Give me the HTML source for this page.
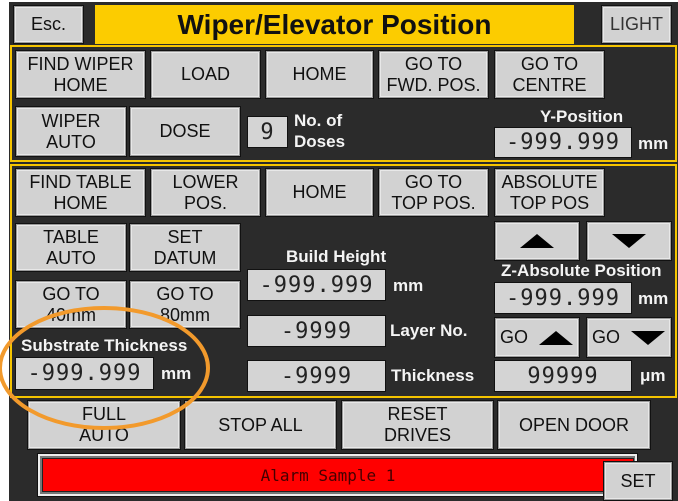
<!DOCTYPE html>
<html><head><meta charset="utf-8"><style>
*{margin:0;padding:0;box-sizing:border-box}
body{width:678px;height:501px;background:#fff;position:relative;overflow:hidden;font-family:"Liberation Sans",sans-serif}
#bg{position:absolute;left:9px;top:2px;width:669px;height:499px;background:#2b2b2b}
.b{position:absolute;background:#d2d2d2;border:1px solid #111;box-shadow:inset 0 0 0 1px #9a9a9a,inset 0 0 0 2px #e8e8e8;display:flex;align-items:center;justify-content:center;text-align:center;font-size:18px;line-height:21px;color:#111}
.v{position:absolute;background:#d4d4d4;border:1px solid #111;display:flex;align-items:center;justify-content:center;font-family:"DejaVu Sans Mono","Liberation Mono",monospace;font-size:22px;color:#222;letter-spacing:1px}
.l{position:absolute;color:#f4f4f4;font-weight:bold;font-size:17px;line-height:21px;white-space:nowrap}
.sec{position:absolute;border:2px solid #f5c400}
.up{width:0;height:0;border-left:17px solid transparent;border-right:17px solid transparent;border-bottom:14px solid #000}
.dn{width:0;height:0;border-left:17px solid transparent;border-right:17px solid transparent;border-top:14px solid #000}
</style></head><body>
<div id="bg"></div>
<div class="b" style="left:13px;top:5px;width:71px;height:39px">Esc.</div>
<div style="position:absolute;left:95px;top:5px;width:479px;height:39px;background:#fccc00;font-weight:bold;font-size:28px;display:flex;align-items:center;justify-content:center;color:#111">Wiper/Elevator Position</div>
<div class="b" style="left:601px;top:5px;width:71px;height:39px;color:#333">LIGHT</div>

<div class="sec" style="left:10px;top:45px;width:667px;height:117px"></div>
<div class="sec" style="left:10px;top:164px;width:667px;height:234px"></div>

<div class="b" style="left:15px;top:50px;width:131px;height:49px">FIND WIPER<br>HOME</div>
<div class="b" style="left:150px;top:50px;width:111px;height:49px">LOAD</div>
<div class="b" style="left:265px;top:50px;width:109px;height:49px">HOME</div>
<div class="b" style="left:378px;top:50px;width:111px;height:49px">GO TO<br>FWD. POS.</div>
<div class="b" style="left:494px;top:50px;width:111px;height:49px">GO TO<br>CENTRE</div>

<div class="b" style="left:15px;top:106px;width:112px;height:51px">WIPER<br>AUTO</div>
<div class="b" style="left:129px;top:106px;width:112px;height:51px">DOSE</div>
<div class="v" style="left:247px;top:116px;width:41px;height:32px">9</div>
<div class="l" style="left:294px;top:110px">No. of<br>Doses</div>
<div class="l" style="left:540px;top:106px">Y-Position</div>
<div class="v" style="left:494px;top:127px;width:138px;height:31px">-999.999</div>
<div class="l" style="left:638px;top:133px">mm</div>

<div class="b" style="left:15px;top:168px;width:131px;height:49px">FIND TABLE<br>HOME</div>
<div class="b" style="left:150px;top:168px;width:111px;height:49px">LOWER<br>POS.</div>
<div class="b" style="left:265px;top:168px;width:109px;height:49px">HOME</div>
<div class="b" style="left:378px;top:168px;width:111px;height:49px">GO TO<br>TOP POS.</div>
<div class="b" style="left:494px;top:168px;width:111px;height:49px">ABSOLUTE<br>TOP POS</div>

<div class="b" style="left:15px;top:223px;width:112px;height:49px">TABLE<br>AUTO</div>
<div class="b" style="left:129px;top:223px;width:112px;height:49px">SET<br>DATUM</div>
<div class="b" style="left:15px;top:280px;width:112px;height:49px">GO TO<br>40mm</div>
<div class="b" style="left:129px;top:280px;width:112px;height:49px">GO TO<br>80mm</div>

<div class="l" style="left:21px;top:335px">Substrate Thickness</div>
<div class="v" style="left:15px;top:357px;width:139px;height:33px">-999.999</div>
<div class="l" style="left:161px;top:363px">mm</div>

<div class="l" style="left:286px;top:246px">Build Height</div>
<div class="v" style="left:247px;top:269px;width:139px;height:32px">-999.999</div>
<div class="l" style="left:393px;top:275px">mm</div>
<div class="v" style="left:247px;top:315px;width:139px;height:32px">-9999</div>
<div class="l" style="left:390px;top:320px">Layer No.</div>
<div class="v" style="left:247px;top:360px;width:139px;height:32px">-9999</div>
<div class="l" style="left:391px;top:365px">Thickness</div>

<div class="b" style="left:494px;top:221px;width:86px;height:40px"><div class="up"></div></div>
<div class="b" style="left:586px;top:221px;width:86px;height:40px"><div class="dn"></div></div>
<div class="l" style="left:501px;top:260px">Z-Absolute Position</div>
<div class="v" style="left:494px;top:282px;width:138px;height:32px">-999.999</div>
<div class="l" style="left:638px;top:288px">mm</div>
<div class="b" style="left:494px;top:317px;width:86px;height:41px;justify-content:space-between;padding:0 6px 0 5px">GO<div class="up"></div></div>
<div class="b" style="left:586px;top:317px;width:86px;height:41px;justify-content:space-between;padding:0 6px 0 5px">GO<div class="dn"></div></div>
<div class="v" style="left:494px;top:360px;width:138px;height:32px">99999</div>
<div class="l" style="left:640px;top:365px">μm</div>

<div class="b" style="left:27px;top:400px;width:154px;height:50px;font-size:18px">FULL<br>AUTO</div>
<div class="b" style="left:184px;top:400px;width:153px;height:50px;font-size:18px">STOP ALL</div>
<div class="b" style="left:341px;top:400px;width:153px;height:50px;font-size:18px">RESET<br>DRIVES</div>
<div class="b" style="left:497px;top:400px;width:154px;height:50px;font-size:18px">OPEN DOOR</div>

<div style="position:absolute;left:37px;top:453px;width:601px;height:44px;background:#777;border:1px solid #111;box-shadow:inset 0 0 0 2px #eee"></div>
<div style="position:absolute;left:42px;top:458px;width:592px;height:34px;background:#ff0000;border:1px solid #222;font-family:'DejaVu Sans Mono','Liberation Mono',monospace;font-size:16px;color:#400;display:flex;align-items:center;justify-content:center;padding-right:20px">Alarm Sample 1</div>
<div class="b" style="left:603px;top:461px;width:70px;height:40px;font-size:18px">SET</div>

<svg style="position:absolute;left:0;top:0" width="678" height="501"><ellipse cx="104" cy="368" rx="104" ry="60" fill="none" stroke="#f29a2c" stroke-width="4"/></svg>
</body></html>
